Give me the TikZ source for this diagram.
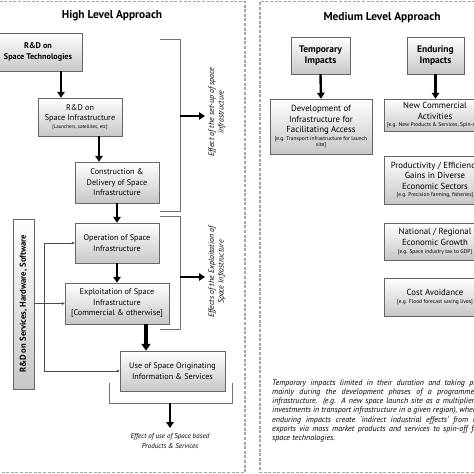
\documentclass[tikz,border=0pt]{standalone}
\usepackage{fontspec}
\setmainfont{PT Sans}
\usetikzlibrary{shadows,arrows.meta}
\newcommand\smalltxt[1]{{\fontsize{5}{5.5}\selectfont #1}}
\newcommand\smalltxtr[1]{{\fontsize{5.5}{6}\selectfont #1}}
\begin{document}
\begin{tikzpicture}[x=1pt,y=-1pt,
  box/.style={draw=black!60, line width=0.5pt, top color=white, bottom color=black!22,
    drop shadow={shadow xshift=1.3pt,shadow yshift=-1.3pt,opacity=0.45,fill=black!60},
    align=center, inner sep=1pt, font=\fontsize{8.2}{10.5}\selectfont},
  rbox/.style={box, font=\fontsize{8.8}{10.6}\selectfont},
  bbox/.style={box, font=\fontsize{8.2}{10.8}\selectfont\bfseries},
  rbbox/.style={box, font=\fontsize{9.5}{11.2}\selectfont\bfseries},
  big/.style={line width=2.4pt, draw=black, -{Triangle[length=6pt,width=7.5pt]}},
  huge/.style={line width=3.4pt, draw=black, -{Triangle[length=7pt,width=9pt]}},
  thinar/.style={line width=0.5pt, draw=black!70, -{Triangle[length=3pt,width=2.6pt]}},
  thinln/.style={line width=0.5pt, draw=black!70},
  brk/.style={draw=black!55, line width=0.6pt},
  dsh/.style={draw=black!35, line width=1.1pt, dash pattern=on 3pt off 1.6pt},
  lbl/.style={font=\fontsize{7.9}{9.5}\selectfont\itshape, align=center, inner sep=0},
  lbls/.style={font=\fontsize{7}{9.5}\selectfont\itshape, align=center, inner sep=0},
  ttl/.style={font=\fontsize{11.4}{13}\selectfont\bfseries, inner sep=0}
]
\useasboundingbox (0,0) rectangle (474,474);
\clip (0,0) rectangle (474,474);
\fill[white] (0,0) rectangle (474,474);

% dashed panels
\draw[dsh] (-5,1.5) -- (245,1.5) -- (245,472.5) -- (-5,472.5);
\draw[dsh] (480,1.5) -- (260,1.5) -- (260,472.5) -- (480,472.5);

% titles
\node[ttl] (t1) at (112,16) {High Level Approach};
\node[ttl] (t2) at (382,18) {Medium Level Approach};

% left panel boxes
\node[bbox, minimum width=88, minimum height=38] (rdst) at (38,52) {R\&D on\\Space Technologies};
\node[box, minimum width=84, minimum height=38] (rdsi) at (80,117) {R\&D on\\Space Infrastructure\\[-3pt]\smalltxt{[Launchers, satellites, etc]}};
\node[box, minimum width=84, minimum height=41] (cons) at (117,182.5) {Construction \&\\Delivery of Space\\Infrastructure};
\node[box, minimum width=84, minimum height=40] (oper) at (117,243) {Operation of Space\\Infrastructure};
\node[box, minimum width=104, minimum height=41] (expl) at (117,303.5) {Exploitation of Space\\Infrastructure\\{[Commercial \& otherwise]}};
\node[box, minimum width=105, minimum height=40] (use) at (172.5,371) {Use of Space Originating\\Information \& Services};
\node[bbox, minimum width=21, minimum height=170] (rdsh) at (23.5,304) {\rotatebox{90}{\fontsize{8.6}{10}\selectfont R\&D on Services, Hardware, Software}};

% main arrows
\coordinate (a1) at (61,0);
\coordinate (a2) at (99,0);
\coordinate (a4) at (146,0);
\draw[big] (rdst.south -| a1) -- (rdsi.north -| a1);
\draw[big] (rdsi.south -| a2) -- (cons.north -| a2);
\draw[big] (cons.south) -- (oper.north);
\draw[big] (oper.south) -- (expl.north);
\draw[huge] (expl.south -| a4) -- (use.north -| a4);

% bus from R&D services
\coordinate (bus) at (44,0);
\draw[thinln] (oper.west -| bus) -- (use.west -| bus);
\draw[thinar] (oper.west -| bus) -- (oper.west);
\draw[thinar] (rdsh.east |- expl.west) -- (expl.west);
\draw[thinar] (use.west -| bus) -- (use.west);

% brackets
\draw[brk] (160,39) -- (180,39) -- (180,211) -- (160,211);
\draw[brk] (160,216) -- (180,216) -- (180,329) -- (160,329);
\coordinate (b1s) at (180,116); \coordinate (b1e) at (205,116);
\coordinate (b2s) at (180,277); \coordinate (b2e) at (205,277);
\draw[big] (b1s) -- (b1e);
\draw[big] (b2s) -- (b2e);
\node[lbl, rotate=90] (l1) at (217,112) {Effect of the set-up of space\\infrastructure};
\node[lbl, rotate=90] (l2) at (217,272) {Effects of the Exploitation of\\Space Infrastructure};

\draw[brk] (109,383) -- (109,403) -- (232,403) -- (232,383);
\coordinate (b3s) at (170,403); \coordinate (b3e) at (170,428);
\draw[big] (b3s) -- (b3e);
\node[lbls] (l3) at (170,441) {Effect of use of Space based\\Products \& Services};

% right panel
\node[rbbox, minimum width=59, minimum height=37] (temp) at (320.5,55.5) {Temporary\\Impacts};
\node[rbbox, minimum width=57, minimum height=37] (endu) at (435.5,55.5) {Enduring\\Impacts};
\node[rbox, minimum width=102, minimum height=55] (dev) at (321,126.5) {Development of\\Infrastructure for\\Facilitating Access\\[-3pt]\smalltxtr{[e.g. Transport infrastructure for launch}\\[-4.5pt]\smalltxtr{site]}};
\node[rbox, minimum width=102, minimum height=32] (newc) at (435,115) {New Commercial\\Activities\\[-3pt]\smalltxtr{[e.g. New Products \& Services, Spin-offs]}};
\node[rbox, minimum width=102, minimum height=48] (prod) at (435,180) {Productivity / Efficiency\\Gains in Diverse\\Economic Sectors\\[-3pt]\smalltxtr{[e.g. Precision farming, fisheries]}};
\node[rbox, minimum width=102, minimum height=37] (natl) at (435,241.5) {National / Regional\\Economic Growth\\[-3pt]\smalltxtr{[e.g. Space industry tax to GDP]}};
\node[rbox, minimum width=102, minimum height=38] (cost) at (435,297) {Cost Avoidance\\[-3pt]\smalltxtr{[e.g. Flood forecast saving lives]}};

\draw[big] (temp.south) -- (dev.north);
\draw[big] (endu.south) -- (newc.north -| endu.south);

\node[anchor=base west, inner sep=0, font=\fontsize{8}{9.3}\selectfont\itshape] (para) at (272,385)
 {\parbox[t]{214pt}{Temporary impacts limited in their duration and taking place\linebreak
 mainly during the development phases of a programme or\linebreak
 infrastructure. (e.g. A new space launch site as a multiplier for\linebreak
 investments in transport infrastructure in a given region), whereas\linebreak
 enduring impacts create `indirect industrial effects' from new\linebreak
 exports via mass market products and services to spin-off from\linebreak
 space technologies.}};
\end{tikzpicture}
\end{document}
